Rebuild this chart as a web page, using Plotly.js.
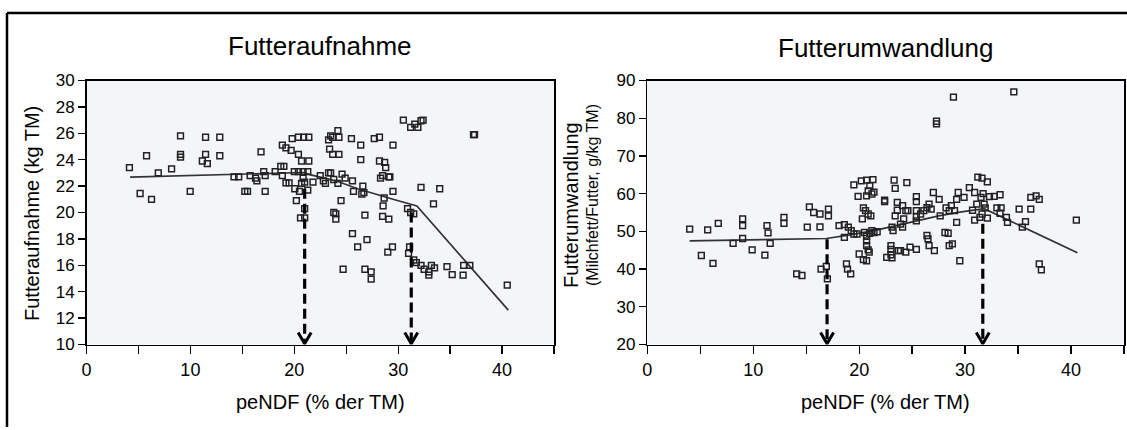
<!DOCTYPE html>
<html>
<head>
<meta charset="utf-8">
<script src="https://cdn.plot.ly/plotly-3.0.1.min.js"></script>
<style>html,body{margin:0;padding:0;background:#fff;}#chart{width:1127px;height:430px;}</style>
</head>
<body>
<div id="chart"></div>
<script>
// ---------- DATA ----------
// Left panel: Futteraufnahme (kg TM) vs peNDF (% der TM)
const leftX = [4.13,5.16,5.78,6.26,6.91,8.19,9.05,9.05,9.05,9.98,11.15,11.46,11.46,11.63,12.83,12.83,14.2,14.65,15.24,15.5,15.75,16.27,16.4,16.8,17.06,17.2,17.2,18.16,18.7,19.0,18.85,19.2,19.7,18.85,19.2,19.5,19.8,20.4,20.9,21.4,20.4,20.0,20.4,20.85,21.3,20.05,20.2,20.7,20.85,21.0,20.7,20.5,21.3,21.4,21.8,21.0,21.0,20.6,22.5,22.8,23.0,23.3,23.5,23.3,23.5,23.7,24.2,24.3,23.4,23.7,24.3,23.8,24.2,23.8,24.0,24.0,24.5,24.6,24.9,25.6,24.7,25.5,25.6,25.7,26.1,26.4,26.4,26.6,26.7,26.5,26.8,26.8,27.4,27.4,27.0,27.7,28.2,28.2,28.7,28.3,28.5,28.8,29.1,29.2,28.65,28.55,28.5,29.1,29.0,29.45,29.5,29.5,30.5,30.9,31.2,31.1,31.0,31.2,31.6,31.9,32.2,32.4,31.5,31.5,31.75,32.2,32.2,32.5,32.95,33.2,33.5,32.95,33.4,34.0,34.7,35.2,36.3,36.25,36.9,37.25,37.35,40.5];
const leftY = [23.4,21.44,24.3,21.0,23.0,23.3,25.8,24.4,24.2,21.6,23.9,25.7,24.4,23.7,25.7,24.3,22.7,22.7,21.6,21.6,22.8,22.6,22.4,24.6,23.1,22.8,21.6,23.1,23.5,23.5,25.1,24.9,24.7,22.8,22.25,22.25,25.6,25.7,25.7,25.7,24.4,23.1,23.1,23.1,23.1,21.8,20.9,23.9,22.6,22.3,22.2,21.6,21.7,23.9,22.3,20.3,19.6,19.6,22.8,22.4,22.2,23.0,23.0,25.5,25.8,25.7,26.2,25.7,24.8,24.4,24.4,22.5,22.2,20.0,19.9,19.5,20.9,22.9,22.6,22.4,15.7,25.6,18.4,21.6,17.4,25.1,24.0,22.0,21.5,21.4,19.8,15.7,15.5,14.95,17.95,25.6,25.7,23.9,23.8,22.6,22.8,23.4,22.7,22.7,21.1,20.5,19.7,19.5,17.0,17.4,25.1,21.6,27.0,20.3,20.0,17.4,16.9,26.45,26.7,26.45,26.95,27.0,19.9,16.4,16.2,21.9,16.0,15.7,15.5,16.0,15.8,15.25,20.65,21.8,15.9,15.3,16.0,15.25,16.0,25.9,25.9,14.5];
const leftFitX = [4.2,11.3,17.1,20.9,21.6,24.0,26.1,28.1,29.5,31.8,36.4,40.6];
const leftFitY = [22.68,22.83,23.0,23.03,22.85,22.4,21.8,21.3,21.0,20.5,16.35,12.6];
const leftArrowX = [21.0,31.26];
const leftArrowTop = [21.8,20.0];

// Right panel: Futterumwandlung (Milchfett/Futter, g/kg TM) vs peNDF (% der TM)
const rightX = [4.0,5.1,5.7,6.2,6.7,8.1,9.0,9.0,9.0,9.9,11.1,11.3,11.4,11.6,12.9,12.9,14.1,14.6,15.1,15.3,15.7,16.3,16.3,16.4,16.9,17.0,17.1,17.1,18.1,18.6,18.6,18.98,19.25,18.8,18.9,19.2,19.5,19.5,19.8,19.9,20.0,20.4,20.7,20.2,20.7,21.3,20.4,20.6,20.3,20.7,21.2,20.85,21.0,20.85,21.1,20.5,20.7,21.0,21.2,20.7,20.7,20.85,20.95,21.4,21.4,21.7,22.4,22.4,22.6,23.0,23.0,23.0,23.1,23.1,23.2,23.3,23.4,23.4,23.6,23.6,23.7,23.9,24.4,23.9,24.1,24.2,24.1,24.4,24.5,24.6,24.8,25.4,25.4,25.4,25.4,25.4,25.4,25.8,26.1,26.4,26.6,26.8,26.4,26.5,26.6,27.1,27.0,27.3,27.3,27.55,27.65,28.1,28.4,28.5,28.8,28.2,28.5,28.7,29.0,28.9,29.2,29.35,29.2,29.5,29.9,30.4,30.9,30.7,30.9,31.1,31.2,31.6,32.1,31.4,31.6,31.5,31.7,31.8,31.9,32.1,32.3,32.75,33.3,33.0,33.4,33.3,33.9,34.0,35.1,35.4,35.7,36.2,36.7,37.0,36.2,34.6,37.0,37.2,40.5];
const rightY = [50.6,43.6,50.4,41.5,52.1,46.8,53.3,51.5,48.1,45.1,43.7,51.5,49.6,46.8,53.7,52.1,38.7,38.3,51.1,56.5,55.0,54.6,51.2,40.0,40.7,37.4,55.9,54.1,51.5,51.8,48.4,51.1,50.2,41.4,40.0,38.7,62.3,49.3,49.3,59.3,44.0,42.5,42.2,63.4,63.6,63.7,56.2,55.5,53.3,59.4,59.9,60.7,62.1,54.6,54.1,49.7,48.7,49.5,50.2,47.5,46.2,45.1,44.5,60.4,49.7,49.9,58.3,57.9,43.1,46.2,45.2,43.8,43.0,51.1,50.2,63.6,61.4,54.1,55.6,57.7,44.9,44.9,44.5,51.9,51.1,53.3,56.8,55.5,62.9,55.5,45.8,45.2,59.2,57.9,55.5,53.9,52.8,54.6,55.5,56.3,57.2,55.9,48.9,48.0,46.2,44.9,60.3,79.2,78.5,58.5,54.1,49.7,49.5,46.2,46.7,56.2,55.5,56.8,55.5,85.6,58.5,60.3,52.4,42.2,59.0,61.6,60.3,55.6,53.0,57.2,64.4,64.1,63.1,53.7,54.6,59.0,60.0,57.2,56.2,53.5,59.2,59.3,59.7,56.2,56.2,54.8,53.7,52.4,55.9,51.1,52.6,59.0,59.4,58.5,55.9,87.0,41.4,39.8,53.0];
const rightFitX = [4.0,10.1,16.9,19.0,21.4,24.1,27.5,29.5,31.8,34.3,36.0,40.6];
const rightFitY = [47.5,47.8,48.1,49.0,50.2,51.9,54.1,55.1,56.0,52.7,50.4,44.3];
const rightArrowX = [16.97,31.67];
const rightArrowTop = [47.9,52.0];

const xTickVals = [0,5,10,15,20,25,30,35,40,45];
const xTickText = ['0','','10','','20','','30','','40',''];
const leftYRange = [10,30];
const rightYRange = [20,90];
const xRange = [0,45];

// ---------- LAYOUT GEOMETRY ----------
const W = 1127, H = 430;
const FONT = 'Liberation Sans, Arial, Helvetica, sans-serif';
const plotTop = 80.5, plotBottom = 344.5;
const lDom = [86.5/W, 554/W];
const rDom = [647.3/W, 1124/W];
const yDom = [1 - plotBottom/H, 1 - plotTop/H];

const pxW_L = (lDom[1]-lDom[0])*W, pxW_R = (rDom[1]-rDom[0])*W, pxH = plotBottom - plotTop;
const headHalfW = 6.5, headH = 12; // arrowhead size in pixels

function arrowTraces(xs, tops, yr, xa, ya, pxWidth) {
  const ux = (xRange[1]-xRange[0]) / pxWidth;
  const uy = (yr[1]-yr[0]) / pxH;
  const base = yr[0];
  const lx = [], ly = [], hx = [], hy = [];
  xs.forEach((x, i) => {
    lx.push(x, x, null); ly.push(tops[i], base + 2*uy, null);
    hx.push(x - headHalfW*ux, x, x + headHalfW*ux, null);
    hy.push(base + headH*uy, base + 0.8*uy, base + headH*uy, null);
  });
  return [
    {x: lx, y: ly, xaxis: xa, yaxis: ya, mode: 'lines', cliponaxis: false, showlegend: false, hoverinfo: 'skip',
     line: {color: '#000', width: 3.2, dash: '10px,5px'}},
    {x: hx, y: hy, xaxis: xa, yaxis: ya, mode: 'lines', cliponaxis: false, showlegend: false, hoverinfo: 'skip',
     line: {color: '#000', width: 3}}
  ];
}

const markerStyle = {symbol: 'square-open', size: 5.8, color: '#222', line: {width: 1.5, color: '#222'}};
const fitLine = {color: '#333', width: 1.7};

const traces = [
  {x: leftFitX, y: leftFitY, xaxis: 'x', yaxis: 'y', mode: 'lines', line: fitLine, showlegend: false},
  {x: leftX, y: leftY, xaxis: 'x', yaxis: 'y', mode: 'markers', marker: markerStyle, showlegend: false},
  ...arrowTraces(leftArrowX, leftArrowTop, leftYRange, 'x', 'y', pxW_L),
  {x: rightFitX, y: rightFitY, xaxis: 'x2', yaxis: 'y2', mode: 'lines', line: fitLine, showlegend: false},
  {x: rightX, y: rightY, xaxis: 'x2', yaxis: 'y2', mode: 'markers', marker: markerStyle, showlegend: false},
  ...arrowTraces(rightArrowX, rightArrowTop, rightYRange, 'x2', 'y2', pxW_R)
];

function xAxis(dom, anchor) {
  return {domain: dom, anchor: anchor, range: xRange, tickmode: 'array', tickvals: xTickVals, ticktext: xTickText,
    ticks: 'outside', ticklen: 8, tickwidth: 1.3, tickcolor: '#000', showline: true, linecolor: '#000', linewidth: 1.5,
    mirror: true, showgrid: false, zeroline: false, tickfont: {family: FONT, size: 18, color: '#000'}};
}
function yAxis(range, dtick, anchor) {
  return {domain: yDom, anchor: anchor, range: range, dtick: dtick, tick0: range[0],
    ticks: 'outside', ticklen: 7, tickwidth: 1.3, tickcolor: '#000', showline: true, linecolor: '#000', linewidth: 1.5,
    mirror: true, showgrid: false, zeroline: false, tickfont: {family: FONT, size: 17, color: '#000'}};
}

const py = v => 1 - v/H;
const px = v => v/W;

const annotations = [
  {text: 'Futteraufnahme', x: (lDom[0]+lDom[1])/2, y: py(46), xref: 'paper', yref: 'paper', showarrow: false,
   xanchor: 'center', yanchor: 'middle', font: {family: FONT, size: 26, color: '#000'}},
  {text: 'Futterumwandlung', x: (rDom[0]+rDom[1])/2, y: py(48), xref: 'paper', yref: 'paper', showarrow: false,
   xanchor: 'center', yanchor: 'middle', font: {family: FONT, size: 26, color: '#000'}},
  {text: 'peNDF (% der TM)', x: (lDom[0]+lDom[1])/2, y: py(402), xref: 'paper', yref: 'paper', showarrow: false,
   xanchor: 'center', yanchor: 'middle', font: {family: FONT, size: 20, color: '#000'}},
  {text: 'peNDF (% der TM)', x: (rDom[0]+rDom[1])/2, y: py(402), xref: 'paper', yref: 'paper', showarrow: false,
   xanchor: 'center', yanchor: 'middle', font: {family: FONT, size: 20, color: '#000'}},
  {text: 'Futteraufnahme (kg TM)', x: px(32), y: py(214), xref: 'paper', yref: 'paper', showarrow: false, textangle: -90,
   xanchor: 'center', yanchor: 'middle', font: {family: FONT, size: 20, color: '#000'}},
  {text: 'Futterumwandlung', x: px(571), y: py(205), xref: 'paper', yref: 'paper', showarrow: false, textangle: -90,
   xanchor: 'center', yanchor: 'middle', font: {family: FONT, size: 20, color: '#000'}},
  {text: '(Milchfett/Futter, g/kg TM)', x: px(593), y: py(195), xref: 'paper', yref: 'paper', showarrow: false, textangle: -90,
   xanchor: 'center', yanchor: 'middle', font: {family: FONT, size: 16, color: '#000'}}
];

const shapes = [
  {type: 'line', xref: 'paper', yref: 'paper', x0: px(7), x1: 1, y0: py(13), y1: py(13), line: {color: '#000', width: 2.5}},
  {type: 'line', xref: 'paper', yref: 'paper', x0: px(7), x1: px(7), y0: py(13), y1: py(427), line: {color: '#000', width: 2.5}}
];

const layout = {
  width: W, height: H, margin: {l: 0, r: 0, t: 0, b: 0},
  paper_bgcolor: '#fff', plot_bgcolor: '#f4f5f9',
  font: {family: FONT, color: '#000'},
  showlegend: false,
  xaxis: xAxis(lDom, 'y'), yaxis: yAxis(leftYRange, 2, 'x'),
  xaxis2: xAxis(rDom, 'y2'), yaxis2: yAxis(rightYRange, 10, 'x2'),
  annotations: annotations, shapes: shapes
};

Plotly.newPlot('chart', traces, layout, {staticPlot: true, displayModeBar: false});
</script>
</body>
</html>
